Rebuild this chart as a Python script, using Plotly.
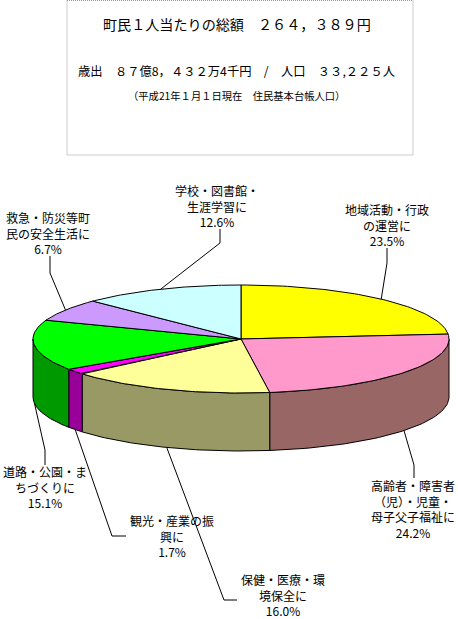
import numpy as np
import plotly.graph_objects as go

# data
categories = ['地域活動・行政<br>の運営に', '高齢者・障害者<br>（児）・児童・<br>母子父子福祉に',
              '保健・医療・環<br>境保全に', '観光・産業の振<br>興に',
              '道路・公園・ま<br>ちづくりに', '救急・防災等町<br>民の安全生活に', '学校・図書館・<br>生涯学習に']
values = [23.5, 24.2, 16.0, 1.7, 15.1, 6.7, 12.6]
top_colors = ['#FFFF00', '#FF99CC', '#FFFF99', '#FF00FF', '#00FF00', '#CC99FF', '#CCFFFF']
side_colors = ['#999900', '#996666', '#999966', '#990099', '#009900', '#7A5C99', '#7A9999']

title_lines = ['町民１人当たりの総額　２６４，３８９円',
               '歳出　８７億8，４３２万4千円　/　人口　３３,２２５人',
               '（平成21年１月１日現在　住民基本台帳人口）']

# page layout, pixels
cx, cy, rx, ry, depth = 241, 339, 208, 54, 58
label_x = [387, 413, 283, 172, 45, 48, 217]
label_y = [225, 509, 595, 536, 487, 233, 206]
# leader bends, outer end last
bends = [[(387, 263), (387, 248)],
         [(414, 465), (414, 478)],
         [(224, 600), (237, 600)],
         [(112, 536), (126, 536)],
         [(45, 450), (45, 465)],
         [(50, 273), (50, 256)],
         [(220, 243), (220, 229)]]

FONT = 'Noto Sans CJK JP'


def ellipse(a, dy=0):
    t = np.radians(a)
    return cx + rx * np.sin(t), cy + dy - ry * np.cos(t)


fig = go.Figure()

edges = np.cumsum([0] + values) / sum(values) * 360

# side walls, only the front half shows
for i in range(len(values)):
    a0, a1 = max(edges[i], 90), min(edges[i + 1], 270)
    if a0 >= a1:
        continue
    t = np.linspace(a0, a1, 60)
    xt, yt = ellipse(t)
    xb, yb = ellipse(t[::-1], depth)
    fig.add_trace(go.Scatter(x=np.r_[xt, xb, xt[0]], y=np.r_[yt, yb, yt[0]], mode='lines',
                             fill='toself', fillcolor=side_colors[i],
                             line=dict(color='black', width=1), hoverinfo='skip'))

# top face
for i in range(len(values)):
    t = np.linspace(edges[i], edges[i + 1], 60)
    x, y = ellipse(t)
    fig.add_trace(go.Scatter(x=np.r_[cx, x, cx], y=np.r_[cy, y, cy], mode='lines',
                             fill='toself', fillcolor=top_colors[i],
                             line=dict(color='black', width=1), hoverinfo='skip'))

# leaders and labels
for i in range(len(values)):
    mid = (edges[i] + edges[i + 1]) / 2
    front = 90 < mid < 270
    x0, y0 = ellipse(mid, depth if front else 0)
    xs = [x0] + [p[0] for p in bends[i]]
    ys = [y0] + [p[1] for p in bends[i]]
    fig.add_trace(go.Scatter(x=xs, y=ys, mode='lines', line=dict(color='black', width=1),
                             hoverinfo='skip'))
    fig.add_annotation(x=label_x[i], y=label_y[i], text=categories[i] + '<br>%.1f%%' % values[i],
                       showarrow=False, font=dict(family=FONT, size=12, color='black'))

# header box
fig.add_shape(type='rect', x0=67, x1=413, y0=0.5, y1=155,
              line=dict(color='#999999', width=1, dash='1px,1px'))
fig.add_annotation(x=237, y=24, text=title_lines[0], showarrow=False,
                   font=dict(family=FONT, size=14.1, color='black'))
fig.add_annotation(x=236.5, y=71, text=title_lines[1], showarrow=False,
                   font=dict(family=FONT, size=12.3, color='black'))
fig.add_annotation(x=236.5, y=95, text=title_lines[2], showarrow=False,
                   font=dict(family=FONT, size=10.3, color='black'))

fig.update_xaxes(range=[0, 458], visible=False, fixedrange=True)
fig.update_yaxes(range=[619, 0], visible=False, fixedrange=True)
fig.update_layout(width=458, height=619, margin=dict(l=0, r=0, t=0, b=0), showlegend=False,
                  paper_bgcolor='white', plot_bgcolor='white')

fig.write_html("out.html", config=dict(displayModeBar=False),
               post_script="document.body.style.margin='0';")
